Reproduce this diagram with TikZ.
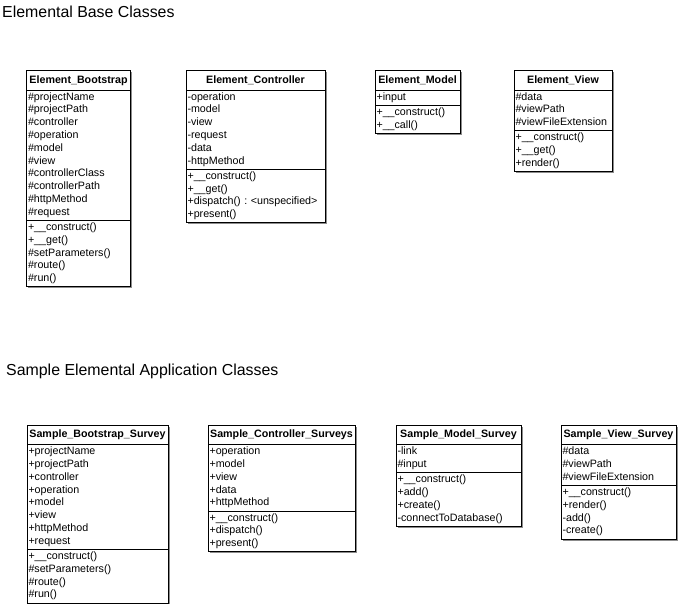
\documentclass[tikz,border=0pt]{standalone}
\usepackage{fontspec}
\setmainfont{Liberation Sans}
\usetikzlibrary{positioning,shadows}

\begin{document}
\begin{tikzpicture}[x=1pt, y=-1pt, every node/.style={inner sep=0pt}]
\tikzset{
  heading/.style={anchor=base west, font=\fontsize{15.9}{19}\selectfont},
  classname/.style={draw, line width=0.8pt, fill=white, anchor=north west, outer sep=0pt, minimum height=19.5, font=\fontsize{10.7}{12.8}\selectfont\bfseries, drop shadow={shadow xshift=1.6pt, shadow yshift=-1.6pt, fill=black!45, opacity=1}},
  members/.style={draw, line width=0.8pt, fill=white, align=left, outer sep=0pt, inner xsep=1.5pt, inner ysep=1.2pt, font=\fontsize{10.7}{12.8}\selectfont\frenchspacing, execute at begin node=\strut, execute at end node=\strut, drop shadow={shadow xshift=1.6pt, shadow yshift=-1.6pt, fill=black!45, opacity=1}}
}
\useasboundingbox (0,0) rectangle (678,604);

\node[heading] (baseTitle) at (2,17.5) {Elemental Base Classes};
\node[heading] (sampleTitle) at (6,375.5) {Sample Elemental Application Classes};

% base classes
\node[classname, minimum width=104] (bootstrap) at (26.5,70.5) {Element\_Bootstrap};
\node[members, text width=101, below=0pt of bootstrap] (bootstrapAttr) {\#projectName\\\#projectPath\\\#controller\\\#operation\\\#model\\\#view\\\#controllerClass\\\#controllerPath\\\#httpMethod\\\#request};
\node[members, text width=101, below=0pt of bootstrapAttr] (bootstrapOps) {+\_\_construct()\\+\_\_get()\\\#setParameters()\\\#route()\\\#run()};

\node[classname, minimum width=139] (controller) at (186,70.5) {Element\_Controller};
\node[members, text width=136, below=0pt of controller] (controllerAttr) {-operation\\-model\\-view\\-request\\-data\\-httpMethod};
\node[members, text width=136, below=0pt of controllerAttr] (controllerOps) {+\_\_construct()\\+\_\_get()\\+dispatch() : <unspecified>\\+present()};

\node[classname, minimum width=85] (model) at (375,70.5) {Element\_Model};
\node[members, text width=82, below=0pt of model] (modelAttr) {+input};
\node[members, text width=82, below=0pt of modelAttr] (modelOps) {+\_\_construct()\\+\_\_call()};

\node[classname, minimum width=98] (view) at (514,70.5) {Element\_View};
\node[members, text width=95, below=0pt of view] (viewAttr) {\#data\\\#viewPath\\\#viewFileExtension};
\node[members, text width=95, below=0pt of viewAttr] (viewOps) {+\_\_construct()\\+\_\_get()\\+render()};

% sample application classes
\node[classname, minimum width=141] (surveyBootstrap) at (27,425) {Sample\_Bootstrap\_Survey};
\node[members, text width=138, below=0pt of surveyBootstrap] (surveyBootstrapAttr) {+projectName\\+projectPath\\+controller\\+operation\\+model\\+view\\+httpMethod\\+request};
\node[members, text width=138, below=0pt of surveyBootstrapAttr] (surveyBootstrapOps) {+\_\_construct()\\\#setParameters()\\\#route()\\\#run()};

\node[classname, minimum width=147] (surveyController) at (208,425) {Sample\_Controller\_Surveys};
\node[members, text width=144, below=0pt of surveyController] (surveyControllerAttr) {+operation\\+model\\+view\\+data\\+httpMethod};
\node[members, text width=144, below=0pt of surveyControllerAttr] (surveyControllerOps) {+\_\_construct()\\+dispatch()\\+present()};

\node[classname, minimum width=125] (surveyModel) at (396,425) {Sample\_Model\_Survey};
\node[members, text width=122, below=0pt of surveyModel] (surveyModelAttr) {-link\\\#input};
\node[members, text width=122, below=0pt of surveyModelAttr] (surveyModelOps) {+\_\_construct()\\+add()\\+create()\\-connectToDatabase()};

\node[classname, minimum width=115] (surveyView) at (561,425) {Sample\_View\_Survey};
\node[members, text width=112, below=0pt of surveyView] (surveyViewAttr) {\#data\\\#viewPath\\\#viewFileExtension};
\node[members, text width=112, below=0pt of surveyViewAttr] (surveyViewOps) {+\_\_construct()\\+render()\\-add()\\-create()};
\end{tikzpicture}
\end{document}
